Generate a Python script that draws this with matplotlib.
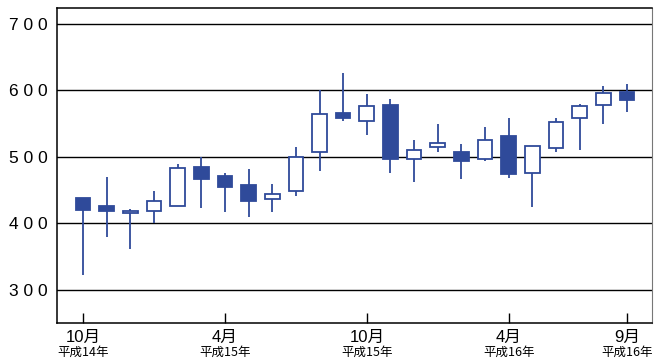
# Candlestick chart of monthly prices, Oct H14 - Sep H16
import numpy as np
from matplotlib import pyplot as plt

plt.rcParams['font.family'] = ['Liberation Sans', 'Noto Sans CJK JP', 'DejaVu Sans']

# monthly values (index 0 = 10月 平成14年)
opens  = [438, 426, 416, 418, 426, 485, 471, 457, 436, 448, 508, 566,
          554, 578, 497, 515, 507, 497, 531, 475, 514, 558, 578, 597]
highs  = [438, 470, 421, 449, 489, 500, 476, 482, 459, 515, 600, 626,
          595, 587, 525, 550, 520, 545, 558, 517, 558, 580, 607, 610]
lows   = [322, 379, 362, 401, 426, 423, 417, 409, 417, 441, 479, 554,
          533, 476, 462, 508, 466, 494, 468, 424, 508, 510, 549, 567]
closes = [420, 419, 418, 434, 483, 466, 454, 434, 444, 500, 565, 558,
          576, 497, 511, 521, 494, 525, 474, 517, 553, 577, 596, 585]

tick_pos = [0, 6, 12, 18, 23]
month_labels = ['10月', '4月', '10月', '4月', '9月']
era_labels = ['平成14年', '平成15年', '平成15年', '平成16年', '平成16年']
y_ticks = [300, 400, 500, 600, 700]

blue = '#2f4a9a'

fig = plt.figure(figsize=(6.57, 3.58), dpi=100)
ax = fig.add_axes([0.0868, 0.0978, 0.9056, 0.88])

x = np.arange(len(opens))
o = np.array(opens)
c = np.array(closes)

# wicks
ax.vlines(x, lows, highs, color=blue, lw=1.3, zorder=2)

# bodies: filled when price fell, hollow when it rose
down = c < o
face = [blue if d else 'white' for d in down]
ax.bar(x, np.abs(c - o), bottom=np.minimum(o, c), width=0.62,
       color=face, edgecolor=blue, linewidth=1.3, zorder=3)

# format plot
ax.set_xlim(-1.1, 24.06)
ax.set_ylim(250, 724)
ax.set_yticks(y_ticks)
ax.set_yticklabels([' '.join(str(v)) for v in y_ticks], fontsize=12.5)
ax.yaxis.grid(True, color='black', lw=1)
ax.set_axisbelow(True)
ax.tick_params(axis='y', length=0, pad=7)

ax.set_xticks(tick_pos)
ax.set_xticklabels(month_labels, fontsize=12)
ax.tick_params(axis='x', direction='in', length=7, width=1, pad=5)

for pos, lab in zip(tick_pos, era_labels):
    ax.text(pos, -0.073, lab, transform=ax.get_xaxis_transform(),
            ha='center', va='top', fontsize=9,
            family=['Noto Sans CJK JP', 'DejaVu Sans'])

for side in ['top', 'left', 'bottom']:
    ax.spines[side].set_linewidth(1.1)
ax.spines['right'].set_color('#777777')

fig.savefig('out.png', dpi=100)
